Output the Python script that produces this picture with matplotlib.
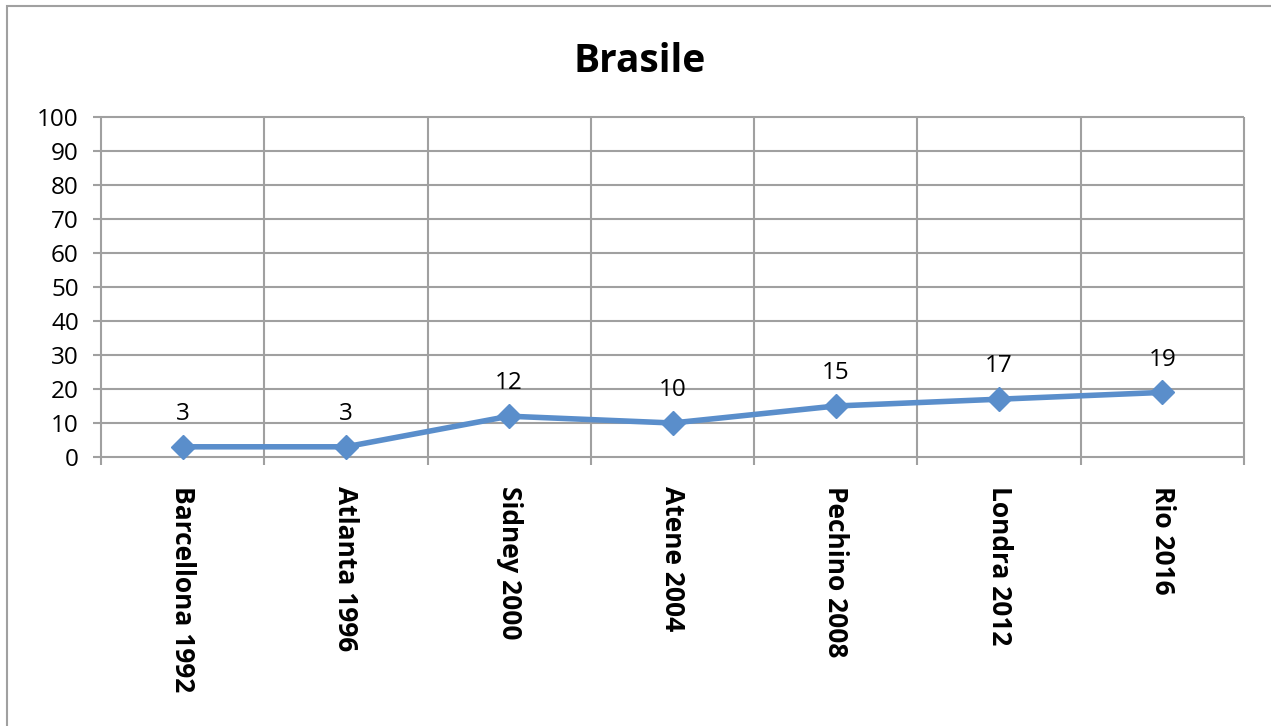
import matplotlib
matplotlib.use("Agg")
import matplotlib.pyplot as plt
from matplotlib.patches import Rectangle

plt.rcParams['font.family'] = ['Open Sans', 'DejaVu Sans']

title = "Brasile"
categories = ["Barcellona 1992", "Atlanta 1996", "Sidney 2000", "Atene 2004",
              "Pechino 2008", "Londra 2012", "Rio 2016"]
values = [3, 3, 12, 10, 15, 17, 19]
yticks = list(range(0, 101, 10))

W, H = 1271, 726
fig = plt.figure(figsize=(W / 100, H / 100), dpi=100)

# outer chart border (open to the right and bottom)
fig.patches.append(Rectangle((7 / W, -0.1), 1.2, 1 - 6 / H + 0.1,
                             transform=fig.transFigure, fill=False,
                             edgecolor='#a0a0a0', linewidth=1.5))

left, right, top, bottom = 101, 1244, 117, 457
ax = fig.add_axes([left / W, 1 - bottom / H, (right - left) / W, (bottom - top) / H])

grid_c = '#a0a0a0'
n = len(categories)
x = list(range(n))
ax.set_xlim(-0.5, n - 0.5)
ax.set_ylim(0, 100)

for s in ax.spines.values():
    s.set_visible(False)

# horizontal gridlines with small ticks into the label area
for yv in yticks:
    ax.plot([-0.5 - 8 / 163.3, n - 0.5], [yv, yv], color=grid_c, lw=1.5,
            clip_on=False, zorder=1, solid_capstyle='butt')
# vertical gridlines at category boundaries, extending below the axis
for b in range(n + 1):
    ax.plot([b - 0.5, b - 0.5], [-8 / 3.4, 100], color=grid_c, lw=1.5,
            clip_on=False, zorder=1, solid_capstyle='butt')

ax.set_yticks(yticks)
ax.set_yticklabels([str(v) for v in yticks], fontsize=17.5)
ax.tick_params(axis='y', length=0, pad=16)
ax.set_xticks(x)
ax.set_xticklabels(categories, rotation=270, fontsize=19, fontweight='bold',
                   va='top', ha='center')
ax.tick_params(axis='x', length=0, pad=21)

ax.plot(x, values, color='#5a8ecb', lw=4, marker='D', markersize=12,
        markeredgecolor='#5a8ecb', zorder=3, clip_on=False)

for xi, v in zip(x, values):
    ax.annotate(str(v), (xi, v), xytext=(0, 15), textcoords='offset points',
                ha='center', va='bottom', fontsize=17.5)

fig.text(640 / W, 1 - 61 / H, title, ha='center', va='center',
         fontsize=28, fontweight='bold')

fig.savefig("out.png", dpi=100)
